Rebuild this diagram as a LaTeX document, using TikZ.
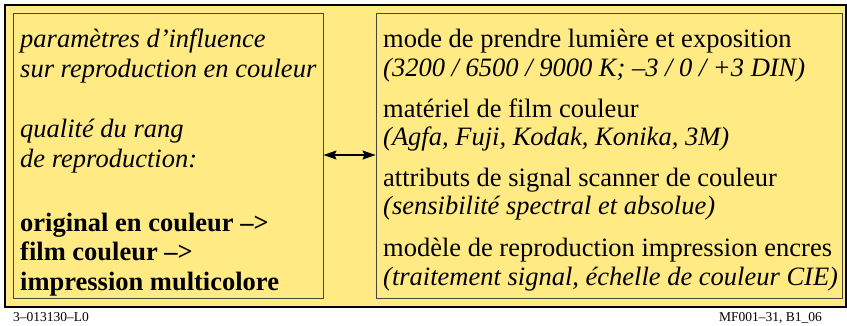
\documentclass[tikz,border=0pt]{standalone}
\usepackage{fontspec}
\setmainfont{Liberation Serif}
\usetikzlibrary{arrows.meta}
\definecolor{panel}{RGB}{255,234,132}
\definecolor{rim}{RGB}{70,70,60}
\tikzset{
  box/.style={draw=rim, line width=1pt, fill=panel, inner sep=0pt},
  txt/.style={anchor=base west, inner sep=0pt, font=\fontsize{26.5}{30}\selectfont},
  foot/.style={inner sep=0pt, font=\fontsize{13.5}{15}\selectfont},
  link/.style={line width=1.2pt, >={Stealth[length=13pt,width=9pt,inset=2pt]}, <->},
}
\begin{document}
\begin{tikzpicture}[x=1pt,y=-1pt]
\useasboundingbox (0,0) rectangle (847,325);
\node[draw=black, line width=1.1pt, fill=panel, minimum width=841pt, minimum height=302pt, inner sep=0pt] (frame) at (425.5,156) {};
\node[box, minimum width=310pt, minimum height=285pt] (L) at (168,155.5) {};
\node[box, minimum width=466pt, minimum height=285pt] (R) at (609,155.5) {};
\draw[link] (L.east |- 0,155) coordinate (a1) -- (R.west |- 0,155) coordinate (a2);
% left texts
\node[txt] (l1) at (20,47) {\itshape paramètres d’influence};
\node[txt] (l2) at (20,77) {\itshape sur reproduction en couleur};
\node[txt] (l3) at (20,137) {\itshape qualité du rang};
\node[txt] (l4) at (20,167) {\itshape de reproduction:};
\node[txt] (l5) at (20,231) {\bfseries original en couleur –>};
\node[txt] (l6) at (20,260) {\bfseries film couleur –>};
\node[txt] (l7) at (20,290) {\bfseries impression multicolore};
% right texts
\node[txt] (r1) at (383,47) {mode de prendre lumière et exposition};
\node[txt] (r2) at (383,76) {\itshape (3200 / 6500 / 9000 K; –3 / 0 / +3 DIN)};
\node[txt] (r3) at (383,117) {matériel de film couleur};
\node[txt] (r4) at (383,145) {\itshape (Agfa, Fuji, Kodak, Konika, 3M)};
\node[txt] (r5) at (383,186) {attributs de signal scanner de couleur};
\node[txt] (r6) at (383,214) {\itshape (sensibilité spectral et absolue)};
\node[txt] (r7) at (383,256) {modèle de reproduction impression encres};
\node[txt] (r8) at (383,285) {\itshape (traitement signal, échelle de couleur CIE)};
% footer
\node[foot, anchor=base west] (f1) at (13,321) {3–013130–L0};
\node[foot, anchor=base east] (f2) at (822,321) {MF001–31, B1\_06};
\end{tikzpicture}
\end{document}
